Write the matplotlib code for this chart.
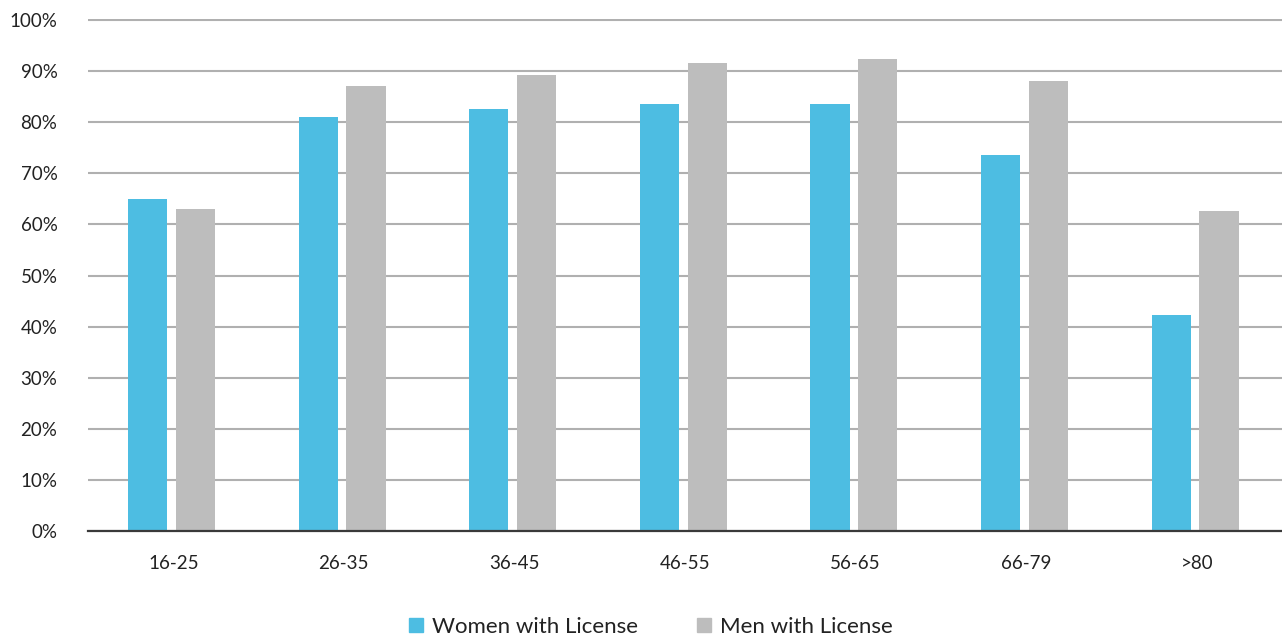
import matplotlib.pyplot as plt
from matplotlib.lines import Line2D
import numpy as np

# Driver's license share by age group
age_groups = ["16-25", "26-35", "36-45", "46-55", "56-65", "66-79", ">80"]
women = [65, 81, 82.6, 83.5, 83.5, 73.6, 42.3]
men = [63, 87, 89.2, 91.5, 92.3, 88, 62.6]

blue = "#4DBDE2"
gray = "#BDBDBD"

plt.rcParams['font.family'] = ['Lato', 'DejaVu Sans']

fig = plt.figure(figsize=(12.82, 6.38), dpi=100)
ax = fig.add_axes([88 / 1282, 107 / 638, 1194 / 1282, 512 / 638])

x = np.arange(len(age_groups))
w = 0.23
ax.bar(x - 0.15, women, width=w, color=blue, zorder=3)
ax.bar(x + 0.13, men, width=w, color=gray, zorder=3)

ax.set_xlim(-0.5, len(age_groups) - 0.5)
ax.set_ylim(0, 100.2)
ax.set_yticks(range(0, 101, 10))
ax.set_yticklabels([f"{v}%" for v in range(0, 101, 10)])
ax.set_xticks(x)
ax.set_xticklabels(age_groups)

ax.grid(axis='y', color="#B0B0B0", linewidth=1.5, zorder=0)
for s in ["top", "right", "left"]:
    ax.spines[s].set_visible(False)
ax.spines["bottom"].set_color("#3A3A3A")
ax.spines["bottom"].set_linewidth(1.6)
ax.spines["bottom"].set_zorder(4)
ax.tick_params(axis='both', length=0, labelsize=13.5, colors="#222222")
ax.tick_params(axis='y', pad=22)
ax.tick_params(axis='x', pad=17)

handles = [
    Line2D([], [], marker='s', linestyle='none', markersize=9.5,
           markerfacecolor=blue, markeredgecolor=blue),
    Line2D([], [], marker='s', linestyle='none', markersize=9.5,
           markerfacecolor=gray, markeredgecolor=gray),
]
fig.legend(handles, ["Women with License", "Men with License"],
           loc='center', bbox_to_anchor=(650 / 1282, 1 - 627 / 638),
           ncol=2, frameon=False, fontsize=16, handlelength=0.8,
           handletextpad=0.3, columnspacing=2.6, labelcolor="#222222")

fig.savefig("out.png", dpi=100)
